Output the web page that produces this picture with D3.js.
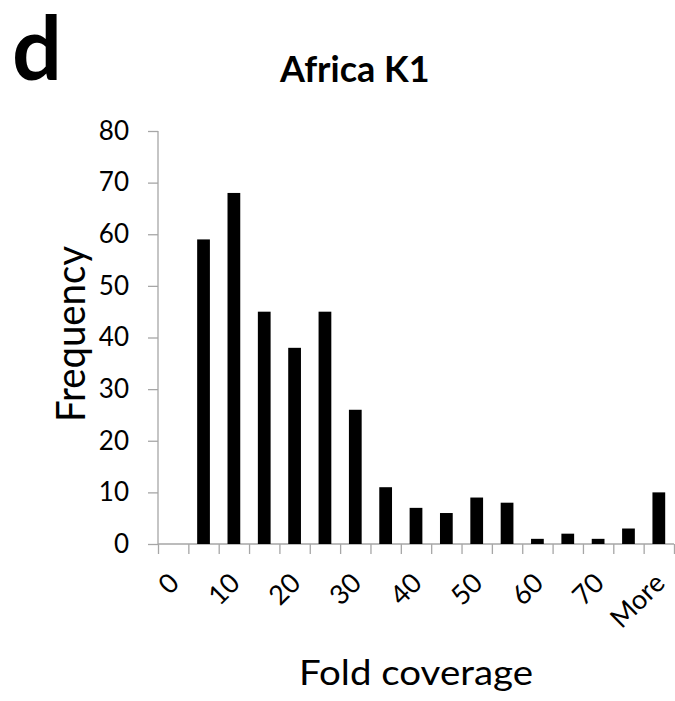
<!DOCTYPE html>
<html>
<head>
	<title>Africa K1</title>
	<script src="https://cdn.jsdelivr.net/npm/d3@7"></script>
</head>
<style type="text/css">
body { margin: 0; background: #fff; }
text { font-family: Lato, "Open Sans", sans-serif; fill: #000; }
</style>
<body>
</body>
</html>
<script type="text/javascript">
	var w = 675;
	var h = 701;
	var categories = ["0","5","10","15","20","25","30","35","40","45","50","55","60","65","70","75","More"];
	var values = [0, 59, 68, 45, 38, 45, 26, 11, 7, 6, 9, 8, 1, 2, 1, 3, 10];
	var shownLabels = ["0","10","20","30","40","50","60","70","More"];
	var yTicks = [0,10,20,30,40,50,60,70,80];

	var margin = {left:158, right:1, top:131, bottom:157};
	var width = w - margin.left - margin.right;
	var height = h - margin.top - margin.bottom;

	var svg = d3.select("body").append("svg").attr("width", w).attr("height", h);
	var g = svg.append("g").attr("transform", "translate(" + margin.left + "," + margin.top + ")");

	var x = d3.scaleBand().domain(categories).range([0, width]).paddingInner(0).paddingOuter(0);
	var xb = d3.scaleLinear().domain([0, categories.length]).range([0, width]);
	var y = d3.scaleLinear().domain([0, 80]).range([height, 0]);

	// y axis
	var yaxis = d3.axisLeft(y).tickValues(yTicks).tickSize(10).tickPadding(19);
	var ya = g.append("g").call(yaxis);
	ya.select(".domain").attr("stroke", "#a6a6a6").attr("stroke-width", 1.3).attr("d", "M0," + y(80) + "V" + height);
	ya.selectAll(".tick line").attr("stroke", "#a6a6a6").attr("stroke-width", 1.3);
	ya.selectAll(".tick text").style("font-size", "26px").attr("fill", "#000");

	// x axis: ticks between categories
	var xaxis = d3.axisBottom(xb).tickValues(d3.range(0, categories.length + 1)).tickSize(10).tickFormat("");
	var xa = g.append("g").attr("transform", "translate(0," + height + ")").call(xaxis);
	xa.select(".domain").attr("stroke", "#a6a6a6").attr("stroke-width", 1.3).attr("d", "M0,0H" + width);
	xa.selectAll(".tick line").attr("stroke", "#a6a6a6").attr("stroke-width", 1.3);

	// bars
	var bw = x.bandwidth() * 0.42;
	g.selectAll("rect.bar").data(values).enter().append("rect")
		.attr("class", "bar")
		.attr("x", function(d,i){ return x(categories[i]) + x.bandwidth()/2 - bw/2; })
		.attr("y", function(d){ return y(d); })
		.attr("width", bw)
		.attr("height", function(d){ return height - y(d); })
		.attr("fill", "#000");

	// rotated category labels
	g.selectAll("text.xl").data(shownLabels).enter().append("text")
		.attr("class", "xl")
		.attr("transform", function(d){ return "translate(" + (x(d) + x.bandwidth()/2 + 1) + "," + (height + 34) + ") rotate(-45)"; })
		.attr("text-anchor", "end")
		.attr("dy", "0.35em")
		.style("font-size", "27px")
		.text(function(d){ return d; });

	// titles
	svg.append("text").attr("x", 12).attr("y", 80)
		.style("font-size", "88px").style("font-weight", "bold").text("d");
	svg.append("text").attr("x", 280).attr("y", 82)
		.style("font-size", "36px").style("font-weight", "bold").text("Africa K1");
	svg.append("text").attr("transform", "translate(85,334) rotate(-90)")
		.attr("text-anchor", "middle").attr("textLength", 176).attr("lengthAdjust", "spacingAndGlyphs")
		.style("font-size", "40px").text("Frequency");
	svg.append("text").attr("x", 299).attr("y", 685).attr("textLength", 234).attr("lengthAdjust", "spacingAndGlyphs")
		.style("font-size", "35px").text("Fold coverage");
</script>
